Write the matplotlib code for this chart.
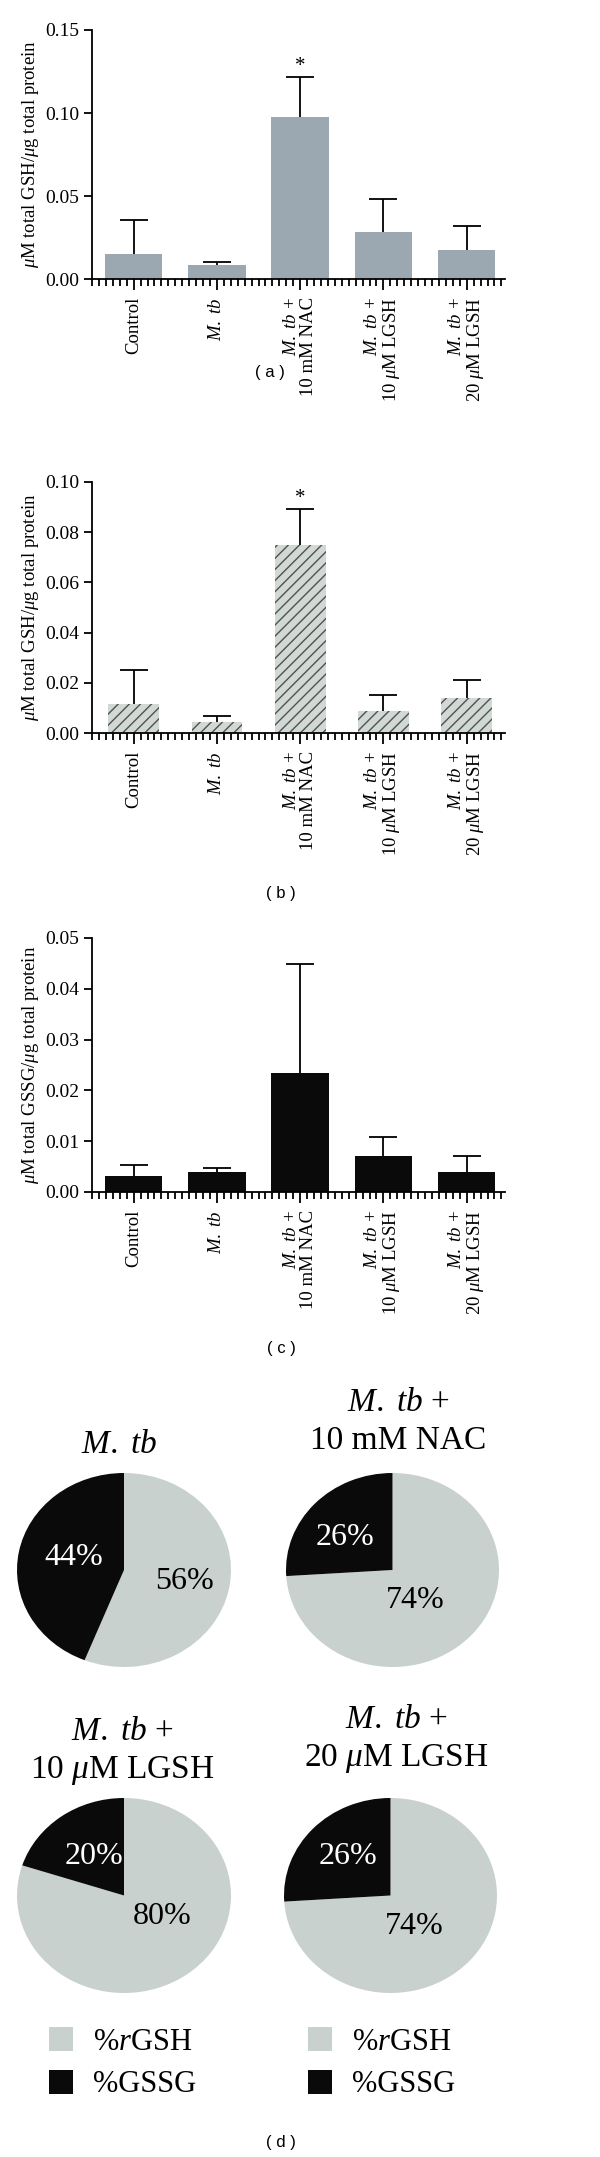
"""Glutathione levels in M. tb infected cells: bars (a)-(c) and pie ratios (d)."""

import matplotlib

matplotlib.use("Agg")
import matplotlib.pyplot as plt
import numpy as np
from matplotlib.ticker import MultipleLocator

plt.rcParams["font.family"] = ["Liberation Serif", "DejaVu Serif"]
plt.rcParams["mathtext.fontset"] = "custom"
plt.rcParams["mathtext.rm"] = "Liberation Serif"
plt.rcParams["mathtext.it"] = "Liberation Serif:italic"

# ---- data ---------------------------------------------------------------
groups = [
    "Control",
    r"$M.\ tb$",
    r"$M.\ tb$ +" "\n" "10 mM NAC",
    r"$M.\ tb$ +" "\n" r"10 $\mu$M LGSH",
    r"$M.\ tb$ +" "\n" r"20 $\mu$M LGSH",
]

gsh_a = [0.0151, 0.0085, 0.0973, 0.0282, 0.0177]
gsh_a_err = [0.0205, 0.0020, 0.0241, 0.0201, 0.0145]

gsh_b = [0.0117, 0.0044, 0.0749, 0.0086, 0.0138]
gsh_b_err = [0.0135, 0.0022, 0.0143, 0.0064, 0.0072]

gssg_c = [0.0032, 0.0039, 0.0235, 0.0070, 0.0039]
gssg_c_err = [0.0021, 0.0009, 0.0214, 0.0039, 0.0032]

pie_titles = [
    r"$M.\ tb$",
    r"$M.\ tb$ +" "\n" "10 mM NAC",
    r"$M.\ tb$ +" "\n" r"10 $\mu$M LGSH",
    r"$M.\ tb$ +" "\n" r"20 $\mu$M LGSH",
]
pct_rgsh = [56, 74, 80, 74]
pct_gssg = [44, 26, 20, 26]
legend_labels = [r"%$r$GSH", "%GSSG"]

# ---- layout (pixels of the 600 x 2157 figure) -----------------------------
W, H = 600, 2157
fig = plt.figure(figsize=(W / 100, H / 100), dpi=100)


def px_axes(left, top, right, bottom):
    return fig.add_axes([left / W, 1 - bottom / H, (right - left) / W, (bottom - top) / H])


def fig_text(x, y, s, **kw):
    fig.text(x / W, 1 - y / H, s, **kw)


def bar_panel(ax, values, errors, ymax, ystep, ylabel, width, stars=(), **bar_kw):
    x = np.arange(len(values))
    ax.bar(x, values, width=width, zorder=2, **bar_kw)
    eb = ax.errorbar(x, values, yerr=[np.zeros(len(errors)), errors], fmt="none",
                     ecolor="black", elinewidth=1.3, capsize=10, capthick=1.3, zorder=3)
    # only the upper cap is drawn in the original
    for cap in eb.lines[1]:
        if np.allclose(cap.get_ydata(), values):
            cap.set_visible(False)
    for g in stars:
        ax.annotate("*", xy=(g, values[g] + errors[g]), xytext=(0, 1), textcoords="offset points",
                    ha="center", va="bottom", fontsize=15)

    ax.set_xlim(-0.5, 4.46)
    ax.set_ylim(0, ymax)
    ax.set_yticks(np.arange(0, ymax + ystep / 2, ystep))
    ax.yaxis.set_major_formatter(lambda v, _: f"{v:.2f}")
    ax.set_xticks(x)
    ax.set_xticklabels(groups, rotation=90, ha="center", va="top", ma="right", linespacing=1.0)
    ax.xaxis.set_minor_locator(MultipleLocator(1 / 12))
    ax.set_ylabel(ylabel, fontsize=13.5, labelpad=3)

    for side in ("top", "right"):
        ax.spines[side].set_visible(False)
    for side in ("left", "bottom"):
        ax.spines[side].set_linewidth(1.3)
    ax.tick_params(axis="y", length=6, width=1.3, pad=3, labelsize=14)
    ax.tick_params(axis="x", which="major", length=8, width=1.3, pad=5, labelsize=13.5)
    ax.tick_params(axis="x", which="minor", length=5, width=1.3)


gsh_label = r"$\mu$M total GSH/$\mu$g total protein"
gssg_label = r"$\mu$M total GSSG/$\mu$g total protein"

ax_a = px_axes(92, 30, 505, 279)
bar_panel(ax_a, gsh_a, gsh_a_err, 0.15, 0.05, gsh_label, 0.69, stars=[2], color="#9BA8B2")

ax_b = px_axes(92, 482, 505, 733)
bar_panel(ax_b, gsh_b, gsh_b_err, 0.10, 0.02, gsh_label, 0.61, stars=[2],
          facecolor="#D2D9D5", edgecolor="#4E5250", linewidth=0, hatch="///")

ax_c = px_axes(92, 938, 505, 1192)
bar_panel(ax_c, gssg_c, gssg_c_err, 0.05, 0.01, gssg_label, 0.69, color="#0A0A0A")

panel_kw = dict(ha="center", va="center", fontsize=12, family=["Liberation Sans", "DejaVu Sans"])
fig_text(270, 373, "( a )", **panel_kw)
fig_text(281, 893, "( b )", **panel_kw)
fig_text(281, 1348, "( c )", **panel_kw)
fig_text(281, 2143, "( d )", **panel_kw)

# ---- pies (d) -------------------------------------------------------------
pie_boxes = [(17, 1473, 231, 1667), (286, 1473, 499, 1667),
             (17, 1798, 231, 1993), (284, 1798, 497, 1993)]
title_xy = [(119, 1445), (398, 1422), (122, 1752), (396, 1740)]
# label spots (fraction of radius): rGSH label, GSSG label
pct_xy = [((0.57, -0.12), (-0.47, 0.13)),
          ((0.21, -0.31), (-0.45, 0.34)),
          ((0.36, -0.22), (-0.28, 0.40)),
          ((0.22, -0.32), (-0.40, 0.40))]
legend_left = [None, None, 49, 308]

for i in range(len(pct_rgsh)):
    ax = px_axes(*pie_boxes[i])
    wedges, _, autotexts = ax.pie(
        [pct_rgsh[i], pct_gssg[i]], colors=["#C9D1CE", "#0A0A0A"], startangle=90,
        counterclock=False, autopct=lambda p: f"{p:.0f}%",
        wedgeprops=dict(linewidth=0), textprops=dict(fontsize=23))
    ax.set_aspect("auto")
    ax.set_xlim(-1, 1)
    ax.set_ylim(-1, 1)
    for t, xy, c in zip(autotexts, pct_xy[i], ["black", "white"]):
        t.set_position(xy)
        t.set_color(c)
    fig_text(*title_xy[i], pie_titles[i], ha="center", va="center", fontsize=24, linespacing=1.3)
    if legend_left[i] is not None:
        ax.legend(wedges, legend_labels, loc="upper left",
                  bbox_to_anchor=(legend_left[i] / W, 1 - 2027 / H), bbox_transform=fig.transFigure,
                  frameon=False, borderpad=0, borderaxespad=0, fontsize=22,
                  handlelength=0.8, handleheight=0.85, handletextpad=0.65, labelspacing=0.42)

fig.savefig("out.png", dpi=100)
